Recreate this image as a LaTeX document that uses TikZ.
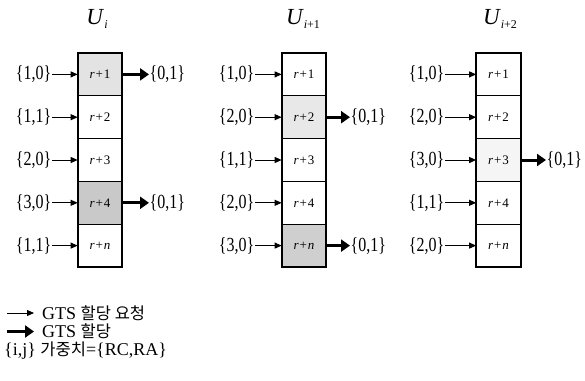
\documentclass[tikz,border=0pt]{standalone}
\usepackage{fontspec}
\setmainfont{Liberation Serif}
\newfontfamily\cond[FakeStretch=0.8]{Liberation Serif}
\newfontfamily\kr{Noto Sans CJK KR}
\usetikzlibrary{arrows.meta}
\begin{document}
\begin{tikzpicture}[x=1pt,y=-1pt,
  cell/.style={draw, line width=0.7pt, minimum width=44pt, minimum height=42.8pt, inner sep=0pt, font=\fontsize{13}{13}\selectfont},
  lab/.style={inner sep=0.5pt, font=\cond\fontsize{20}{20}\selectfont},
  ttl/.style={inner sep=0pt, font=\fontsize{23}{23}\selectfont},
  inarr/.style={line width=0.9pt, -{Triangle[length=7pt,width=6pt]}},
  outarr/.style={line width=3pt, -{Triangle[length=9pt,width=12pt]}},
  outer/.style={line width=2pt},
  leg/.style={inner sep=0pt, anchor=west, font=\fontsize{18}{18}\selectfont}]
\useasboundingbox (0,0) rectangle (585,380);
\newcommand{\rc}[1]{\textit{r}\kern1pt+\kern1pt#1}
\newcommand{\sbs}[1]{\raisebox{-0.4ex}{\fontsize{12}{12}\selectfont #1}}
\newcommand{\krs}[1]{{\kr\fontsize{16.5}{16.5}\selectfont #1}}
% column 1
\node[ttl] (t1) at (97,19) {\textit{U}\sbs{\textit{i}}};
\node[cell, fill=gray!22] (a1) at (100,74.4) {\rc{1}};
\node[cell] (a2) at (100,117.2) {\rc{2}};
\node[cell] (a3) at (100,160) {\rc{3}};
\node[cell, fill=gray!42] (a4) at (100,202.8) {\rc{4}};
\node[cell] (a5) at (100,245.6) {\rc{\textit{n}}};
\draw[outer] (a1.north west) rectangle (a5.south east);
\node[lab, anchor=east] (la1) at (52,74.4) {\{1,0\}};
\node[lab, anchor=east] (la2) at (52,117.2) {\{1,1\}};
\node[lab, anchor=east] (la3) at (52,160) {\{2,0\}};
\node[lab, anchor=east] (la4) at (52,202.8) {\{3,0\}};
\node[lab, anchor=east] (la5) at (52,245.6) {\{1,1\}};
\foreach \k in {1,...,5} \draw[inarr] (la\k.east) -- (a\k.west);
\node[lab, anchor=west] (ra1) at (149,74.4) {\{0,1\}};
\node[lab, anchor=west] (ra4) at (149,202.8) {\{0,1\}};
\draw[outarr] (a1.east) -- (ra1.west);
\draw[outarr] (a4.east) -- (ra4.west);
% column 2
\node[ttl] (t2) at (303,19) {\textit{U}\sbs{\textit{i}+1}};
\node[cell] (b1) at (304,74.4) {\rc{1}};
\node[cell, fill=gray!18] (b2) at (304,117.2) {\rc{2}};
\node[cell] (b3) at (304,160) {\rc{3}};
\node[cell] (b4) at (304,202.8) {\rc{4}};
\node[cell, fill=gray!38] (b5) at (304,245.6) {\rc{\textit{n}}};
\draw[outer] (b1.north west) rectangle (b5.south east);
\node[lab, anchor=east] (lb1) at (255,74.4) {\{1,0\}};
\node[lab, anchor=east] (lb2) at (255,117.2) {\{2,0\}};
\node[lab, anchor=east] (lb3) at (255,160) {\{1,1\}};
\node[lab, anchor=east] (lb4) at (255,202.8) {\{2,0\}};
\node[lab, anchor=east] (lb5) at (255,245.6) {\{3,0\}};
\foreach \k in {1,...,5} \draw[inarr] (lb\k.east) -- (b\k.west);
\node[lab, anchor=west] (rb2) at (350,117.2) {\{0,1\}};
\node[lab, anchor=west] (rb5) at (350,245.6) {\{0,1\}};
\draw[outarr] (b2.east) -- (rb2.west);
\draw[outarr] (b5.east) -- (rb5.west);
% column 3
\node[ttl] (t3) at (500,19) {\textit{U}\sbs{\textit{i}+2}};
\node[cell] (c1) at (498.5,74.4) {\rc{1}};
\node[cell] (c2) at (498.5,117.2) {\rc{2}};
\node[cell, fill=gray!8] (c3) at (498.5,160) {\rc{3}};
\node[cell] (c4) at (498.5,202.8) {\rc{4}};
\node[cell] (c5) at (498.5,245.6) {\rc{\textit{n}}};
\draw[outer] (c1.north west) rectangle (c5.south east);
\node[lab, anchor=east] (lc1) at (445,74.4) {\{1,0\}};
\node[lab, anchor=east] (lc2) at (445,117.2) {\{2,0\}};
\node[lab, anchor=east] (lc3) at (445,160) {\{3,0\}};
\node[lab, anchor=east] (lc4) at (445,202.8) {\{1,1\}};
\node[lab, anchor=east] (lc5) at (445,245.6) {\{2,0\}};
\foreach \k in {1,...,5} \draw[inarr] (lc\k.east) -- (c\k.west);
\node[lab, anchor=west] (rc3) at (546,160) {\{0,1\}};
\draw[outarr] (c3.east) -- (rc3.west);
% legend
\coordinate (g1) at (7,313);
\coordinate (g2) at (7,331.5);
\node[leg] (lg1) at (42,313) {GTS \krs{할당 요청}};
\node[leg] (lg2) at (42,331.5) {GTS \krs{할당}};
\node[leg] (lg3) at (4,351) {\{i,j\} \krs{가중치}=\{RC,RA\}};
\draw[inarr] (g1) -- ([xshift=-8pt]lg1.west);
\draw[outarr] (g2) -- ([xshift=-8pt]lg2.west);
\end{tikzpicture}
\end{document}
